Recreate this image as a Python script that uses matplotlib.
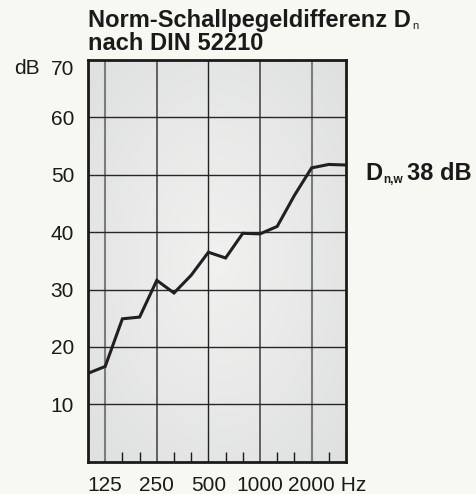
import numpy as np
import matplotlib
matplotlib.use("Agg")
import matplotlib.pyplot as plt

plt.rcParams['font.family'] = ['Liberation Sans', 'DejaVu Sans']

# third-octave bands 100 .. 3150 Hz
BANDS = [100, 125, 160, 200, 250, 315, 400, 500, 630, 800, 1000, 1250, 1600, 2000, 2500, 3150]
DN = [15.4, 16.6, 24.9, 25.2, 31.6, 29.4, 32.5, 36.5, 35.5, 39.8, 39.7, 41.0, 46.4, 51.2, 51.8, 51.7]
OCTAVES = [125, 250, 500, 1000, 2000]
Y_TICKS = [10, 20, 30, 40, 50, 60, 70]
DNW = 38

BG = "#f8f8f2"
INK = "#1a1a1a"
FS = 15
FS_BOLD = 17

fig = plt.figure(figsize=(4.77, 4.94), dpi=100, facecolor=BG)
ax = fig.add_axes([88 / 477, 1 - 461.7 / 494, (346 - 88) / 477, (461.7 - 60) / 494])

x = np.arange(len(BANDS))
ax.set_xlim(0, len(BANDS) - 1)
ax.set_ylim(0, 70)

# soft radial shading of the plot area
gx, gy = np.meshgrid(np.linspace(-1, 1, 200), np.linspace(-1, 1, 300))
r = np.clip(np.sqrt(gx ** 2 + gy ** 2) / 1.3, 0, 1)
light = np.array([0.945, 0.949, 0.941])
dark = np.array([0.878, 0.886, 0.882])
img = light[None, None, :] * (1 - r[..., None]) + dark[None, None, :] * r[..., None]
ax.imshow(img, extent=[0, len(BANDS) - 1, 0, 70], aspect="auto", zorder=0)

# octave lines get darker toward the middle
oct_idx = [BANDS.index(f) for f in OCTAVES]
oct_style = [("#7c7c7c", 1.5), ("#4a4a4a", 1.2), ("#222222", 1.0), ("#4a4a4a", 1.2), ("#7c7c7c", 1.5)]
for i, (c, w) in zip(oct_idx, oct_style):
    ax.axvline(i, color=c, lw=w, zorder=1)
for v in Y_TICKS[:-1]:
    ax.axhline(v, color="#262626", lw=1.0, zorder=1)

ax.plot(x, DN, color="#231f20", lw=2.2, solid_joinstyle="miter", zorder=3)

for s in ax.spines.values():
    s.set_linewidth(2.0)
    s.set_color(INK)
    s.set_zorder(4)

minor = [i for i in range(1, len(BANDS) - 1) if i not in oct_idx]
ax.set_xticks(minor, minor=True)
ax.tick_params(axis="x", which="minor", direction="in", length=7.5, width=1.0, color=INK)
ax.set_xticks(oct_idx)
ax.set_xticklabels([str(f) for f in OCTAVES])
ax.tick_params(axis="x", which="major", length=0, pad=10, labelsize=FS, labelcolor=INK)
ax.set_yticks(Y_TICKS)
ax.set_yticklabels([str(v) for v in Y_TICKS])
ax.tick_params(axis="y", length=0, pad=10, labelsize=FS, labelcolor=INK)
# top label sits just below the frame
top_lbl = ax.get_yticklabels()[-1]
top_lbl.set_verticalalignment("top")
top_lbl.set_y(70)

fig.text(14 / 477, 1 - 68.5 / 494, "dB", ha="left", va="center", fontsize=FS, color=INK)

# title with subscript
t1 = fig.text(88 / 477, 1 - 27 / 494, "Norm-Schallpegeldifferenz D", ha="left", va="baseline",
              fontsize=FS_BOLD, fontweight="bold", color=INK)
fig.text(88 / 477, 1 - 49.5 / 494, "nach DIN 52210", ha="left", va="baseline",
         fontsize=FS_BOLD, fontweight="bold", color=INK)

t2 = fig.text(365 / 477, 1 - 180 / 494, "D", ha="left", va="baseline",
              fontsize=FS_BOLD, fontweight="bold", color=INK)

fig.canvas.draw()
rend = fig.canvas.get_renderer()
inv = fig.transFigure.inverted()

bb = t1.get_window_extent(rend)
x0, _ = inv.transform((bb.x1 + 1, 0))
fig.text(x0, 1 - 29 / 494, "n", ha="left", va="baseline", fontsize=8, color=INK)

bb = t2.get_window_extent(rend)
x0, _ = inv.transform((bb.x1 + 1, 0))
sub = fig.text(x0, 1 - 183 / 494, "n,w", ha="left", va="baseline", fontsize=8.5,
               fontweight="bold", color=INK)
fig.canvas.draw()
bb = sub.get_window_extent(rend)
x0, _ = inv.transform((bb.x1 + 4, 0))
fig.text(x0, 1 - 180 / 494, f"{DNW} dB", ha="left", va="baseline",
         fontsize=FS_BOLD, fontweight="bold", color=INK)

# unit after the last octave label
last = ax.get_xticklabels()[-1]
bb = last.get_window_extent(rend)
hx, hy = inv.transform((bb.x1, bb.y0))
fig.text(hx, hy, " Hz", ha="left", va="bottom", fontsize=FS, color=INK)

fig.savefig("out.png", dpi=100, facecolor=BG)
